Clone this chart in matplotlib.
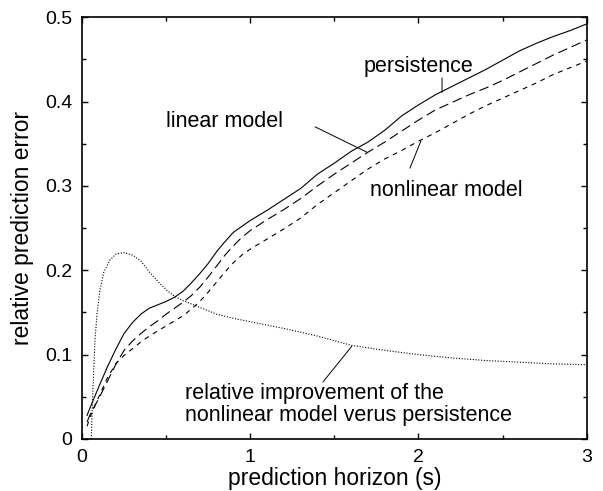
import matplotlib
matplotlib.use("Agg")
from matplotlib import pyplot as plt
from matplotlib.ticker import MultipleLocator

plt.rcParams["font.family"] = ["Liberation Sans", "DejaVu Sans"]
plt.rcParams["lines.scale_dashes"] = False

# error curves vs prediction horizon
horizon = [0.03, 0.05, 0.1, 0.15, 0.2, 0.25, 0.3, 0.35, 0.4, 0.45, 0.5, 0.55,
           0.6, 0.65, 0.7, 0.75, 0.8, 0.85, 0.9, 0.95, 1.0, 1.1, 1.2, 1.3, 1.4,
           1.5, 1.6, 1.7, 1.8, 1.9, 2.0, 2.1, 2.2, 2.3, 2.4, 2.5, 2.6, 2.7,
           2.8, 2.9, 3.0]
persistence = [0.028, 0.038, 0.062, 0.085, 0.106, 0.125, 0.138, 0.148, 0.155,
               0.159, 0.163, 0.168, 0.175, 0.185, 0.196, 0.208, 0.222, 0.234,
               0.245, 0.252, 0.259, 0.271, 0.284, 0.297, 0.314, 0.327, 0.341,
               0.352, 0.366, 0.383, 0.396, 0.408, 0.418, 0.428, 0.438, 0.449,
               0.460, 0.469, 0.477, 0.484, 0.492]
linear = [0.020, 0.030, 0.048, 0.068, 0.088, 0.105, 0.116, 0.125, 0.133, 0.140,
          0.148, 0.155, 0.162, 0.170, 0.180, 0.192, 0.205, 0.218, 0.229, 0.239,
          0.247, 0.260, 0.272, 0.285, 0.300, 0.314, 0.327, 0.340, 0.352, 0.365,
          0.378, 0.390, 0.399, 0.408, 0.416, 0.425, 0.435, 0.445, 0.455, 0.464,
          0.473]
nonlinear = [0.015, 0.027, 0.050, 0.072, 0.089, 0.099, 0.107, 0.115, 0.122,
             0.128, 0.134, 0.140, 0.146, 0.154, 0.163, 0.174, 0.186, 0.198,
             0.209, 0.218, 0.225, 0.237, 0.249, 0.262, 0.278, 0.292, 0.306,
             0.320, 0.332, 0.342, 0.353, 0.363, 0.374, 0.385, 0.395, 0.404,
             0.413, 0.422, 0.432, 0.440, 0.448]

# relative improvement of nonlinear model over persistence
horizon_imp = [0.055, 0.065, 0.077, 0.09, 0.107, 0.13, 0.166, 0.2, 0.245, 0.3,
               0.35, 0.4, 0.45, 0.5, 0.55, 0.6, 0.7, 0.8, 0.9, 1.0, 1.2, 1.4,
               1.6, 1.8, 2.0, 2.2, 2.4, 2.6, 2.8, 3.0]
improvement = [0.0, 0.06, 0.117, 0.150, 0.177, 0.198, 0.212, 0.219, 0.221,
               0.218, 0.211, 0.198, 0.187, 0.177, 0.169, 0.164, 0.156, 0.148,
               0.143, 0.139, 0.131, 0.122, 0.111, 0.105, 0.100, 0.096, 0.093,
               0.091, 0.089, 0.088]

xticks = [0, 1, 2, 3]
xtick_labels = ["0", "1", "2", "3"]
yticks = [0, 0.1, 0.2, 0.3, 0.4, 0.5]
ytick_labels = ["0", "0.1", "0.2", "0.3", "0.4", "0.5"]

fig = plt.figure(figsize=(6.03, 4.91), dpi=100)
ax = fig.add_axes([0.136, 0.106, 0.837, 0.859])

lw = 0.8
ax.plot(horizon, persistence, color="black", lw=lw)
ax.plot(horizon, linear, color="black", lw=lw, dashes=(7, 3.5))
ax.plot(horizon, nonlinear, color="black", lw=lw, dashes=(3.5, 3.5))
ax.plot(horizon_imp, improvement, color="black", lw=lw, dashes=(0.8, 1.2))

ax.set_xlim(0, 3)
ax.set_ylim(0, 0.5)
ax.set_xticks(xticks)
ax.set_xticklabels(xtick_labels)
ax.set_yticks(yticks)
ax.set_yticklabels(ytick_labels)
ax.xaxis.set_minor_locator(MultipleLocator(0.5))
ax.yaxis.set_minor_locator(MultipleLocator(0.05))
ax.tick_params(which="both", direction="in", top=True, right=True, width=1)
ax.tick_params(which="major", length=4.5, labelsize=14, pad=7)
ax.tick_params(which="minor", length=3)
for s in ax.spines.values():
    s.set_linewidth(1.2)

ax.set_xlabel("prediction horizon (s)", fontsize=16.5, labelpad=1)
ax.set_ylabel("relative prediction error", fontsize=16.5, labelpad=8)

# labels with leader lines
fs = 15.5
line_kw = dict(arrowstyle="-", color="black", lw=0.7, shrinkA=0, shrinkB=0)
ax.text(2.0, 0.441, "persistence", fontsize=fs, ha="center", va="center")
ax.annotate("", xy=(2.14, 0.411), xytext=(2.14, 0.428), arrowprops=line_kw)

ax.text(0.846, 0.376, "linear model", fontsize=fs, ha="center", va="center")
ax.annotate("", xy=(1.693, 0.340), xytext=(1.385, 0.370), arrowprops=line_kw)

ax.text(2.163, 0.295, "nonlinear model", fontsize=fs, ha="center", va="center")
ax.annotate("", xy=(2.014, 0.353), xytext=(1.949, 0.321), arrowprops=line_kw)

ax.text(0.612, 0.041, "relative improvement of the\nnonlinear model verus persistence",
        fontsize=fs, ha="left", va="center", linespacing=1.1)
ax.annotate("", xy=(1.604, 0.110), xytext=(1.432, 0.0675), arrowprops=line_kw)

plt.savefig("out.png", dpi=100)
